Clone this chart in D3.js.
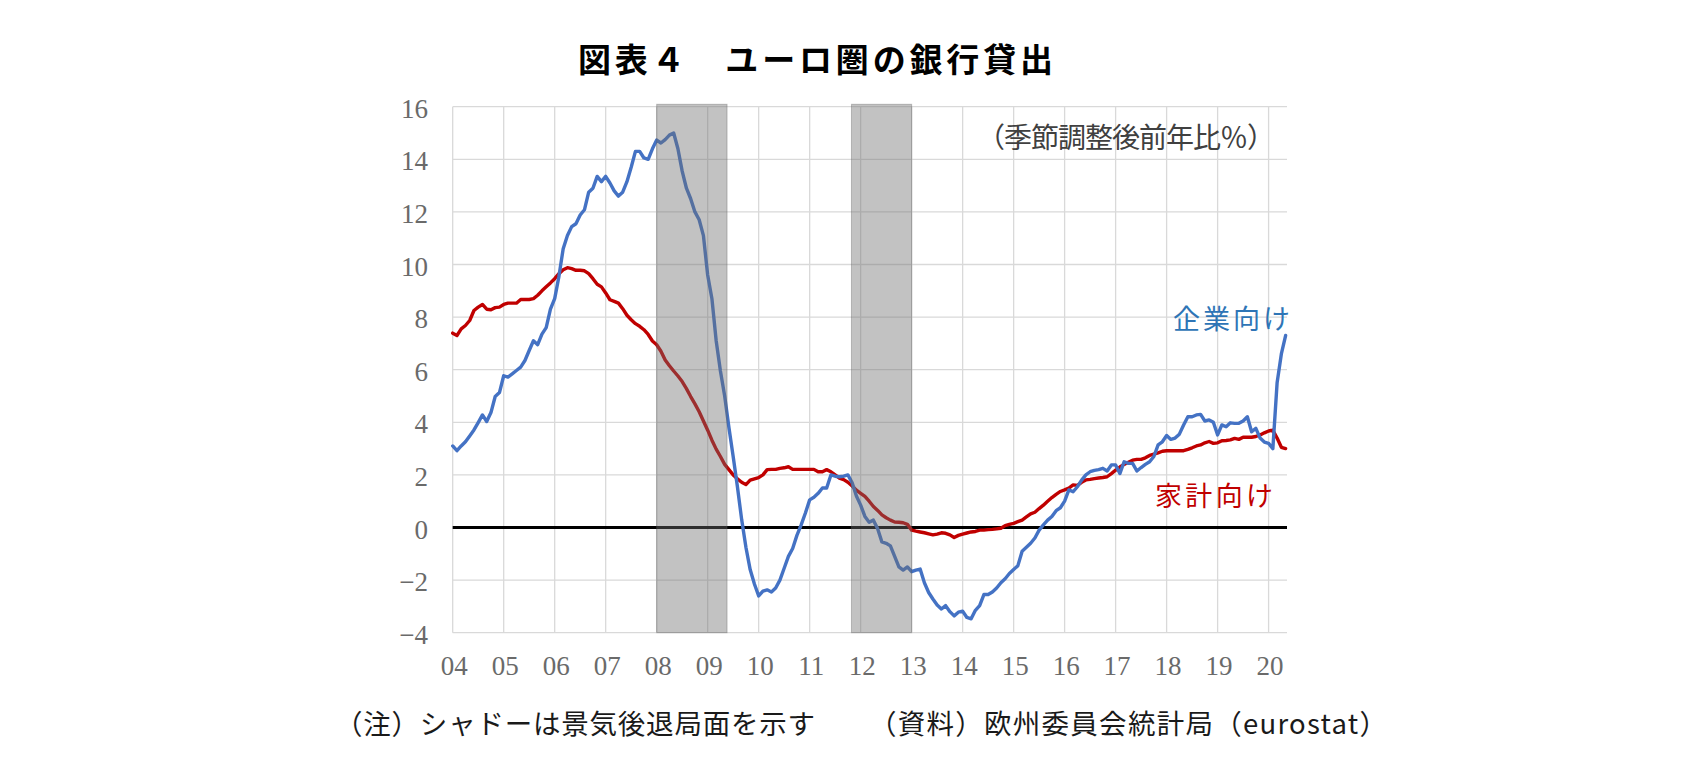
<!DOCTYPE html>
<html>
<head>
<meta charset="utf-8">
<script src="https://cdn.jsdelivr.net/npm/d3@7/dist/d3.min.js"></script>
<style>
  html, body { margin: 0; padding: 0; background: #ffffff; }
  svg { display: block; }
</style>
</head>
<body>
<svg id="chart" width="1695" height="769"></svg>
<script>
// ---------------- data ----------------
const titleText = "図表４　ユーロ圏の銀行貸出";
const unitText = "（季節調整後前年比％）";
const noteText = "（注）シャドーは景気後退局面を示す";
const sourceText = "（資料）欧州委員会統計局（eurostat）";
const seriesNames = ["企業向け", "家計向け"];

const startYear = 2004;            // first monthly point = Jan 2004
const xTickLabels = ["04","05","06","07","08","09","10","11","12","13","14","15","16","17","18","19","20"];
const yTicks = [16, 14, 12, 10, 8, 6, 4, 2, 0, -2, -4];

// recession shading periods (in fractional years)
const recessionStarts = [2008.0, 2011.82];
const recessionEnds   = [2009.38, 2013.0];

// 企業向け (loans to non-financial corporations), monthly, Jan 2004 - May 2020
const corporateLoans = [
  3.1, 2.92, 3.1, 3.26, 3.48, 3.71, 3.99, 4.28, 4.03, 4.37, 4.98, 5.13,
  5.77, 5.72, 5.84, 5.97, 6.1, 6.35, 6.73, 7.1, 6.95, 7.35, 7.6, 8.3,
  8.7, 9.55, 10.6, 11.1, 11.44, 11.55, 11.88, 12.08, 12.75, 12.9, 13.35, 13.15,
  13.35, 13.1, 12.8, 12.6, 12.75, 13.15, 13.7, 14.3, 14.3, 14.05, 14.0, 14.4,
  14.73, 14.62, 14.75, 14.92, 15.0, 14.4, 13.55, 12.9, 12.5, 12.0, 11.7, 11.1,
  9.6, 8.7, 7.1, 5.95, 5.0, 3.8, 2.7, 1.55, 0.3, -0.75, -1.6, -2.15,
  -2.6, -2.42, -2.37, -2.45, -2.3, -2.0, -1.55, -1.1, -0.8, -0.3, 0.1, 0.55,
  1.05, 1.15, 1.3, 1.5, 1.5, 2.0, 1.95, 1.93, 1.95, 2.0, 1.7, 1.2,
  0.85, 0.42, 0.2, 0.28, -0.05, -0.55, -0.6, -0.7, -1.1, -1.5, -1.62, -1.5,
  -1.68, -1.62, -1.58, -2.1, -2.47, -2.72, -2.95, -3.1, -2.97, -3.2, -3.36, -3.22,
  -3.18, -3.42, -3.47, -3.15, -2.97, -2.55, -2.55, -2.45, -2.3, -2.1, -1.95, -1.75,
  -1.6, -1.45, -0.9, -0.75, -0.6, -0.4, -0.1, 0.1, 0.28, 0.42, 0.64, 0.75,
  1.0, 1.43, 1.36, 1.55, 1.8, 2.0, 2.12, 2.17, 2.2, 2.25, 2.15, 2.38,
  2.38, 2.05, 2.5, 2.44, 2.44, 2.15, 2.28, 2.4, 2.5, 2.7, 3.14, 3.26,
  3.5, 3.35, 3.4, 3.55, 3.9, 4.21, 4.21, 4.28, 4.3, 4.05, 4.09, 4.0,
  3.52, 3.9, 3.83, 3.98, 3.96, 3.96, 4.05, 4.21, 3.64, 3.77, 3.4, 3.25,
  3.2, 3.0, 5.5, 6.6, 7.3
];

// 家計向け (loans to households), monthly, Jan 2004 - May 2020
const householdLoans = [
  7.39, 7.3, 7.55, 7.68, 7.87, 8.25, 8.38, 8.48, 8.3, 8.28, 8.36, 8.38,
  8.48, 8.53, 8.53, 8.53, 8.67, 8.67, 8.67, 8.7, 8.83, 9.0, 9.15, 9.3,
  9.46, 9.65, 9.8, 9.88, 9.84, 9.78, 9.78, 9.76, 9.65, 9.46, 9.25, 9.15,
  8.92, 8.66, 8.6, 8.53, 8.32, 8.07, 7.9, 7.75, 7.65, 7.52, 7.34, 7.09,
  6.95, 6.7, 6.37, 6.15, 5.95, 5.76, 5.55, 5.28, 4.98, 4.7, 4.4, 4.05,
  3.7, 3.32, 2.98, 2.7, 2.4, 2.2, 2.0, 1.85, 1.72, 1.63, 1.8, 1.85,
  1.9, 2.0, 2.2, 2.21, 2.21, 2.25, 2.27, 2.31, 2.21, 2.21, 2.21, 2.21,
  2.21, 2.21, 2.12, 2.12, 2.2, 2.12, 2.0, 1.88, 1.82, 1.72, 1.58, 1.42,
  1.3, 1.18, 1.0, 0.8, 0.65, 0.48, 0.37, 0.28, 0.21, 0.2, 0.18, 0.12,
  -0.1, -0.14, -0.17, -0.2, -0.24, -0.28, -0.25, -0.2, -0.22, -0.28, -0.38, -0.3,
  -0.25, -0.21, -0.17, -0.15, -0.1, -0.1, -0.08, -0.07, -0.05, -0.03, 0.07, 0.12,
  0.16, 0.22, 0.28, 0.4, 0.52, 0.58, 0.72, 0.85, 1.0, 1.14, 1.26, 1.37,
  1.43, 1.5, 1.62, 1.6, 1.72, 1.81, 1.83, 1.86, 1.88, 1.9, 1.93, 2.05,
  2.18, 2.3, 2.4, 2.48, 2.56, 2.59, 2.59, 2.65, 2.74, 2.79, 2.84, 2.9,
  2.92, 2.92, 2.92, 2.92, 2.92, 2.97, 3.03, 3.1, 3.14, 3.22, 3.27, 3.2,
  3.22, 3.3, 3.31, 3.33, 3.39, 3.35, 3.43, 3.43, 3.43, 3.46, 3.52, 3.6,
  3.67, 3.7, 3.4, 3.05, 3.0
];

// ---------------- layout ----------------
const plotLeft = 452.7, plotRight = 1287, plotTop = 106.7, plotBottom = 632.7;
const nPoints = corporateLoans.length;
const lastYear = startYear + (nPoints - 1) / 12;

const svg = d3.select("#chart");

const x = d3.scaleLinear()
  .domain([startYear, lastYear])
  .range([plotLeft, 1285.6]);
const y = d3.scaleLinear()
  .domain([-4, 16])
  .range([plotBottom, plotTop]);

const toPoints = arr => arr.map((v, i) => ({ t: startYear + i / 12, v }));

// ---------------- gridlines ----------------
const grid = svg.append("g").attr("class", "grid");
grid.selectAll("line.h")
  .data(yTicks)
  .join("line")
  .attr("class", "h")
  .attr("x1", plotLeft).attr("x2", plotRight)
  .attr("y1", d => y(d)).attr("y2", d => y(d))
  .attr("stroke", "#d9d9d9").attr("stroke-width", 1.3);

const yearTicks = xTickLabels.map((lab, i) => startYear + i);
grid.selectAll("line.v")
  .data(yearTicks)
  .join("line")
  .attr("class", "v")
  .attr("x1", d => x(d)).attr("x2", d => x(d))
  .attr("y1", plotTop).attr("y2", plotBottom)
  .attr("stroke", "#d9d9d9").attr("stroke-width", 1.3);

// ---------------- zero line ----------------
svg.append("line")
  .attr("x1", plotLeft).attr("x2", plotRight)
  .attr("y1", y(0)).attr("y2", y(0))
  .attr("stroke", "#000").attr("stroke-width", 2.8);

// ---------------- series ----------------
const line = d3.line()
  .x(d => x(d.t))
  .y(d => y(d.v))
  .curve(d3.curveLinear);

svg.append("path")
  .datum(toPoints(householdLoans))
  .attr("d", line)
  .attr("fill", "none")
  .attr("stroke", "#c00000")
  .attr("stroke-width", 3.4)
  .attr("stroke-linejoin", "round")
  .attr("stroke-linecap", "round");

svg.append("path")
  .datum(toPoints(corporateLoans))
  .attr("d", line)
  .attr("fill", "none")
  .attr("stroke", "#4472c4")
  .attr("stroke-width", 3.4)
  .attr("stroke-linejoin", "round")
  .attr("stroke-linecap", "round");

// ---------------- recession shading (drawn over, semi-transparent) ----------------
const periods = recessionStarts.map((s, i) => ({ s, e: recessionEnds[i] }));
svg.append("g").selectAll("rect")
  .data(periods)
  .join("rect")
  .attr("x", d => x(d.s))
  .attr("width", d => x(d.e) - x(d.s))
  .attr("y", y(16) - 2.4)
  .attr("height", y(-4) - y(16) + 2.4)
  .attr("fill", "rgb(110,110,110)")
  .attr("fill-opacity", 0.42)
  .attr("stroke", "rgba(90,90,90,0.35)")
  .attr("stroke-width", 1);

// ---------------- axis labels ----------------
const tickFont = "'Liberation Serif', 'DejaVu Serif', serif";
svg.append("g").selectAll("text")
  .data(yTicks)
  .join("text")
  .attr("x", 428)
  .attr("y", d => y(d) + 11)
  .attr("text-anchor", "end")
  .attr("font-family", tickFont)
  .attr("font-size", 27)
  .attr("fill", "#6a6a6a")
  .text(d => d < 0 ? "\u2212" + Math.abs(d) : String(d));

svg.append("g").selectAll("text")
  .data(xTickLabels)
  .join("text")
  .attr("x", (d, i) => x(startYear + i) + 1.5)
  .attr("y", 675)
  .attr("text-anchor", "middle")
  .attr("font-family", tickFont)
  .attr("font-size", 27)
  .attr("fill", "#6a6a6a")
  .text(d => d);

// ---------------- texts ----------------
const jp = "'Noto Sans CJK JP', 'Noto Sans CJK SC', sans-serif";

svg.append("text")
  .attr("x", 578).attr("y", 72)
  .attr("font-family", jp).attr("font-weight", 700)
  .attr("font-size", 33)
  .attr("fill", "#000")
  .attr("textLength", 475).attr("lengthAdjust", "spacing")
  .text(titleText);

svg.append("text")
  .attr("x", 977).attr("y", 148)
  .attr("font-family", jp)
  .attr("font-size", 28)
  .attr("fill", "#404040")
  .attr("textLength", 298).attr("lengthAdjust", "spacing")
  .text(unitText);

svg.append("text")
  .attr("x", 1173).attr("y", 329)
  .attr("font-family", jp)
  .attr("font-size", 27)
  .attr("fill", "#2e75b6")
  .attr("textLength", 117).attr("lengthAdjust", "spacing")
  .text(seriesNames[0]);

svg.append("text")
  .attr("x", 1155).attr("y", 506)
  .attr("font-family", jp)
  .attr("font-size", 27)
  .attr("fill", "#c00000")
  .attr("textLength", 118).attr("lengthAdjust", "spacing")
  .text(seriesNames[1]);

svg.append("text")
  .attr("x", 335).attr("y", 734)
  .attr("font-family", jp)
  .attr("font-size", 27.5)
  .attr("fill", "#1a1a1a")
  .attr("textLength", 480).attr("lengthAdjust", "spacing")
  .text(noteText);

svg.append("text")
  .attr("x", 869).attr("y", 734)
  .attr("font-family", jp)
  .attr("font-size", 27.5)
  .attr("fill", "#1a1a1a")
  .attr("textLength", 518).attr("lengthAdjust", "spacing")
  .text(sourceText);
</script>
</body>
</html>
